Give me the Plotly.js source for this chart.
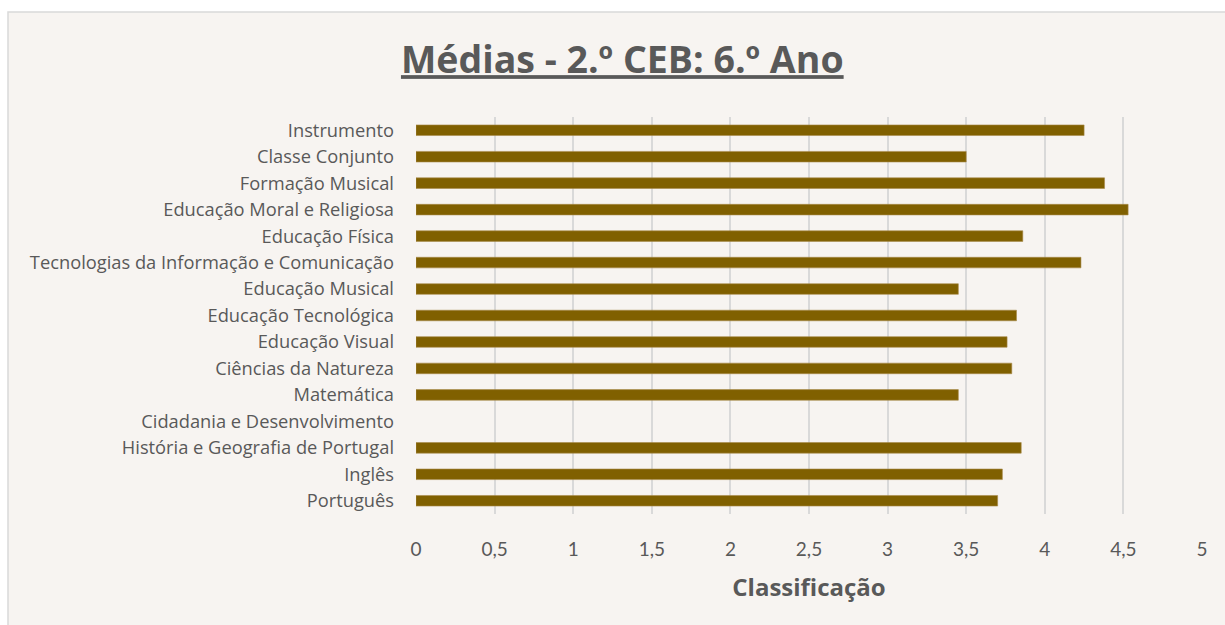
<!DOCTYPE html>
<html>
<head>
<meta charset="utf-8">
<script src="https://cdn.plot.ly/plotly-3.0.1.min.js"></script>
<style>
  html, body { margin: 0; padding: 0; background: #ffffff; }
</style>
</head>
<body>
<div id="chart" style="width: 1225px; height: 625px;"></div>
<script>
    // Disciplinas (de baixo para cima, como no gráfico)
    const subjects = [
        'Português',
        'Inglês',
        'História e Geografia de Portugal',
        'Cidadania e Desenvolvimento',
        'Matemática',
        'Ciências da Natureza',
        'Educação Visual',
        'Educação Tecnológica',
        'Educação Musical',
        'Tecnologias da Informação e Comunicação',
        'Educação Física',
        'Educação Moral e Religiosa',
        'Formação Musical',
        'Classe Conjunto',
        'Instrumento'
    ];
    const averages = [3.70, 3.73, 3.85, null, 3.45, 3.79, 3.76, 3.82, 3.45, 4.23, 3.86, 4.53, 4.38, 3.50, 4.25];
    const xTicks = [0, 0.5, 1, 1.5, 2, 2.5, 3, 3.5, 4, 4.5, 5];
    const xTickLabels = ['0', '0,5', '1', '1,5', '2', '2,5', '3', '3,5', '4', '4,5', '5'];

    const textColor = '#595959';
    const fontFamily = '"Open Sans", Lato, sans-serif';

    const trace = {
        type: 'bar',
        orientation: 'h',
        y: subjects,
        x: averages,
        width: 0.4,
        marker: {
            color: '#806000',
            line: { color: '#A88A4A', width: 0.6 }
        },
        hovertemplate: '%{y}: %{x:.2f}<extra></extra>'
    };

    // chart frame: plot area spans 416..1202 px, 117..514 px
    const plotW = 1225 - 416 - 23;
    const plotH = 625 - 117 - 111;

    const layout = {
        width: 1225,
        height: 625,
        margin: { l: 416, r: 23, t: 117, b: 111 },
        paper_bgcolor: '#ffffff',
        plot_bgcolor: 'rgba(0,0,0,0)',
        showlegend: false,
        font: { family: fontFamily, color: textColor, size: 16 },
        title: {
            text: '<b>Médias - 2.º CEB: 6.º Ano</b>',
            font: { family: '"Open Sans", sans-serif', size: 37.5, color: textColor, lineposition: 'under' },
            x: 0.508,
            xref: 'container',
            xanchor: 'center',
            y: 1 - 60 / 625,
            yref: 'container',
            yanchor: 'middle'
        },
        xaxis: {
            range: [0, 5],
            tickvals: xTicks,
            ticktext: xTickLabels,
            showgrid: true,
            gridcolor: '#D9D9D9',
            gridwidth: 1.5,
            zeroline: false,
            showline: false,
            ticks: '',
            ticklabelstandoff: 22,
            tickfont: { family: 'Lato, sans-serif', size: 19, color: textColor },
            title: {
                text: '<b>Classificação</b>',
                font: { family: '"Open Sans", sans-serif', size: 24, color: textColor },
                standoff: 20
            },
            fixedrange: true
        },
        yaxis: {
            type: 'category',
            categoryorder: 'array',
            categoryarray: subjects,
            range: [-0.5, subjects.length - 0.5],
            showgrid: false,
            zeroline: false,
            showline: false,
            ticks: '',
            ticklabelstandoff: 21,
            tickfont: { family: fontFamily, size: 18.3, color: textColor },
            fixedrange: true
        },
        shapes: [{
            type: 'rect',
            layer: 'below',
            xref: 'paper',
            yref: 'paper',
            x0: (8 - 416) / plotW,
            x1: (1240 - 416) / plotW,
            y0: (625 - 117 - 640) / plotH,
            y1: (625 - 111 - 12) / plotH,
            fillcolor: '#F7F4F1',
            line: { color: '#D9D9D9', width: 1.5 }
        }]
    };

    const config = {
        responsive: false,
        displayModeBar: false
    };

    Plotly.newPlot('chart', [trace], layout, config);
</script>
</body>
</html>
